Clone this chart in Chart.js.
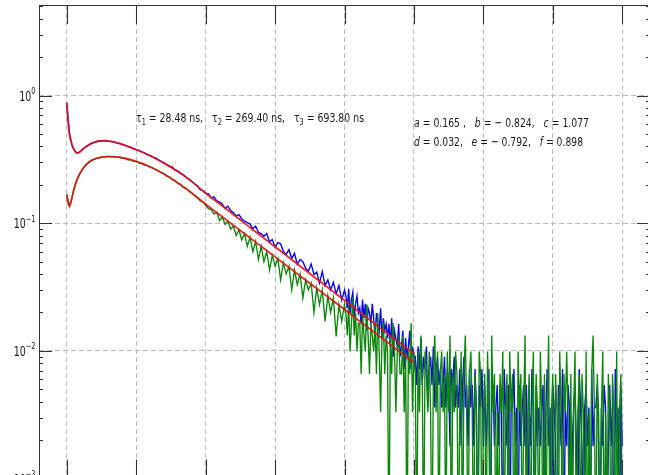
<!DOCTYPE html>
<html>
<head>
<meta charset="utf-8">
<script src="https://cdn.jsdelivr.net/npm/chart.js@4.4.0/dist/chart.umd.min.js"></script>
<style>
  html, body { margin: 0; padding: 0; background: #fff; overflow: hidden; }
  #wrap { width: 648px; height: 475px; overflow: hidden; }
</style>
</head>
<body>
<div id="wrap"><canvas id="decay" width="660" height="500"></canvas></div>
<script>
// sample times (ns): 10 ns steps up to 1000, then 5 ns steps
const dataTimes = [
  0,10,20,30,40,50,60,70,80,90,
  100,110,120,130,140,150,160,170,180,190,
  200,210,220,230,240,250,260,270,280,290,
  300,310,320,330,340,350,360,370,380,390,
  400,410,420,430,440,450,460,470,480,490,
  500,510,520,530,540,550,560,570,580,590,
  600,610,620,630,640,650,660,670,680,690,
  700,710,720,730,740,750,760,770,780,790,
  800,810,820,830,840,850,860,870,880,890,
  900,910,920,930,940,950,960,970,980,990,
  1000,
  1005,1010,1015,1020,1025,1030,1035,1040,1045,1050,
  1055,1060,1065,1070,1075,1080,1085,1090,1095,1100,
  1105,1110,1115,1120,1125,1130,1135,1140,1145,1150,
  1155,1160,1165,1170,1175,1180,1185,1190,1195,1200,
  1205,1210,1215,1220,1225,1230,1235,1240,1245,1250,
  1255,1260,1265,1270,1275,1280,1285,1290,1295,1300,
  1305,1310,1315,1320,1325,1330,1335,1340,1345,1350,
  1355,1360,1365,1370,1375,1380,1385,1390,1395,1400,
  1405,1410,1415,1420,1425,1430,1435,1440,1445,1450,
  1455,1460,1465,1470,1475,1480,1485,1490,1495,1500,
  1505,1510,1515,1520,1525,1530,1535,1540,1545,1550,
  1555,1560,1565,1570,1575,1580,1585,1590,1595,1600,
  1605,1610,1615,1620,1625,1630,1635,1640,1645,1650,
  1655,1660,1665,1670,1675,1680,1685,1690,1695,1700,
  1705,1710,1715,1720,1725,1730,1735,1740,1745,1750,
  1755,1760,1765,1770,1775,1780,1785,1790,1795,1800,
  1805,1810,1815,1820,1825,1830,1835,1840,1845,1850,
  1855,1860,1865,1870,1875,1880,1885,1890,1895,1900,
  1905,1910,1915,1920,1925,1930,1935,1940,1945,1950,
  1955,1960,1965,1970,1975,1980,1985,1990,1995,2000
];

// upper decay (blue)
const blueDecay = [
  0.88,0.50,0.40,0.365,0.355,0.368,0.384,0.400,0.414,0.425,
  0.433,0.439,0.444,0.441,0.445,0.438,0.437,0.433,0.425,0.421,
  0.414,0.408,0.398,0.394,0.383,0.378,0.372,0.362,0.356,0.345,
  0.340,0.330,0.325,0.314,0.306,0.297,0.290,0.280,0.275,0.262,
  0.256,0.246,0.240,0.229,0.222,0.213,0.204,0.196,0.183,0.180,
  0.172,0.170,0.158,0.161,0.150,0.147,0.141,0.131,0.136,0.126,
  0.121,0.114,0.117,0.108,0.104,0.101,0.0985,0.0905,0.0950,0.0850,
  0.0830,0.0790,0.0830,0.0715,0.0745,0.0650,0.0705,0.0690,0.0600,0.0570,
  0.0620,0.0530,0.0580,0.0475,0.0520,0.0500,0.0445,0.0420,0.0480,0.0395,
  0.0415,0.0340,0.0420,0.0325,0.0360,0.0300,0.0345,0.0280,0.0325,0.0250,
  0.0300,
  0.027,0.0216,0.0306,0.0198,0.0252,0.0288,0.018,0.0234,0.027,0.0198,
  0.0216,0.0162,0.0252,0.018,0.0234,0.0144,0.0216,0.0198,0.0162,0.0234,
  0.018,0.0126,0.0198,0.0162,0.0144,0.0216,0.0126,0.018,0.0144,0.0162,
  0.0126,0.0162,0.0108,0.018,0.009,0.0144,0.0126,0.0108,0.0162,0.009,
  0.0108,0.0144,0.0072,0.0126,0.009,0.0108,0.0144,0.0072,0.0108,0.009,
  0.009,0.0054,0.0108,0.0072,0.0126,0.0054,0.009,0.0072,0.0108,0.0036,
  0.0072,0.009,0.0054,0.0108,0.0036,0.0072,0.009,0.0054,0.0072,0.0036,
  0.0054,0.009,0.0036,0.0072,0.0054,0.0018,0.0072,0.0054,0.009,0.0036,
  0.0054,0.0036,0.0072,0.0018,0.0054,0.009,0.0036,0.0054,0.0018,0.0072,
  0.0036,0.0054,0.0018,0.0072,0.0036,0,0.0054,0.0036,0.0072,0.0018,
  0.0054,0.0018,0.0036,0.0072,0,0.0036,0.0054,0.0018,0.0036,0.0054,
  0.0018,0.0054,0.0036,0,0.0072,0.0036,0.0018,0.0054,0,0.0036,
  0.0036,0.0072,0.0018,0.0036,0,0.0054,0.0018,0.0036,0.0054,0.0018,
  0.0054,0,0.0036,0.0018,0.0072,0.0036,0,0.0054,0.0018,0.0036,
  0.0018,0.0036,0.0054,0,0.0036,0.0072,0.0018,0.0036,0,0.0054,
  0.0036,0.0018,0,0.0054,0.0036,0.0018,0.0072,0,0.0036,0.0018,
  0.0054,0.0036,0,0.0018,0.0036,0.0054,0.0018,0,0.0072,0.0036,
  0.0018,0,0.0036,0.0054,0.0018,0.0036,0,0.0072,0.0018,0.0036,
  0.0036,0.0054,0.0018,0,0.0036,0.0018,0.0054,0.0036,0,0.0018,
  0.0054,0.0018,0.0036,0,0.0072,0.0018,0.0036,0,0.0054,0.0018
];

// lower decay (green)
const greenDecay = [
  0.168,0.136,0.163,0.200,0.228,0.252,0.270,0.288,0.300,0.312,
  0.318,0.325,0.326,0.333,0.330,0.334,0.331,0.333,0.328,0.329,
  0.323,0.322,0.314,0.315,0.306,0.305,0.296,0.294,0.284,0.283,
  0.274,0.271,0.262,0.257,0.248,0.245,0.234,0.231,0.220,0.216,
  0.205,0.202,0.190,0.188,0.178,0.172,0.164,0.158,0.150,0.146,
  0.139,0.130,0.128,0.118,0.122,0.105,0.112,0.098,0.104,0.090,
  0.095,0.080,0.089,0.074,0.083,0.066,0.078,0.060,0.072,0.052,
  0.066,0.050,0.060,0.043,0.056,0.046,0.053,0.036,0.049,0.040,
  0.046,0.030,0.043,0.033,0.040,0.026,0.036,0.030,0.034,0.020,
  0.031,0.023,0.030,0.017,0.027,0.020,0.026,0.013,0.023,0.017,
  0.0231,
  0.0198,0.0132,0.0231,0.0099,0.0165,0.0264,0.0132,0.0198,0.0099,0.0165,
  0.0165,0.0066,0.0198,0.0132,0.0099,0.0231,0.0132,0.0066,0.0165,0.0132,
  0.0099,0.0165,0.0066,0.0198,0.0099,0.0033,0.0132,0.0165,0.0066,0.0132,
  0.0099,0,0.0132,0.0066,0.0165,0.0099,0.0033,0.0099,0.0132,0.0066,
  0.0066,0.0132,0.0033,0.0099,0,0.0099,0.0066,0.0165,0.0033,0.0099,
  0.0066,0,0.0099,0.0033,0.0132,0.0066,0,0.0099,0.0066,0.0033,
  0.0099,0.0033,0,0.0066,0.0132,0.0033,0.0099,0,0.0066,0.0099,
  0.0033,0.0066,0,0.0099,0.0033,0.0132,0,0.0066,0.0033,0.0099,
  0.0066,0,0.0033,0.0099,0,0.0066,0.0132,0.0033,0,0.0066,
  0.0099,0.0033,0,0.0066,0.0033,0,0.0099,0.0066,0,0.0033,
  0.0066,0,0.0099,0.0033,0,0.0132,0.0033,0.0066,0,0.0033,
  0,0.0066,0.0033,0.0099,0,0.0033,0.0066,0,0.0099,0.0033,
  0.0066,0,0.0033,0,0.0099,0.0033,0.0066,0,0.0033,0.0132,
  0,0.0033,0.0066,0,0.0033,0.0099,0,0.0066,0.0033,0,
  0.0099,0.0033,0,0.0066,0,0.0033,0.0132,0,0.0033,0.0066,
  0,0.0066,0.0033,0,0.0099,0.0033,0,0.0066,0.0033,0.0099,
  0.0033,0,0.0066,0,0.0033,0.0099,0,0.0033,0.0066,0,
  0.0066,0.0033,0,0.0099,0,0.0033,0,0.0066,0.0132,0.0033,
  0,0.0066,0.0033,0,0.0033,0.0099,0,0.0033,0,0.0066,
  0.0033,0,0.0066,0.0033,0,0.0099,0,0.0033,0.0066,0
];

// fitted curves (red)
const fitTimes = [0,3,6,9,12,15,20,25,30,37,45,60,80,100,120,140,160,180,200,
  250,300,350,400,450,500,550,600,650,700,750,800,850,900,950,1000,1050,1100,1150,1200,1250];
const fitUpper = [0.88,0.70,0.58,0.51,0.47,0.44,0.405,0.382,0.366,0.354,0.358,
  0.383,0.410,0.430,0.441,0.443,0.438,0.428,0.415,
  0.377,0.338,0.295,0.254,0.212,0.172,0.142,0.117,0.0963,0.0794,0.0654,0.0539,
  0.0444,0.0366,0.0302,0.0249,0.0205,0.0169,0.0139,0.0115,0.0095];
const fitLower = [0.168,0.150,0.140,0.136,0.139,0.146,0.163,0.182,0.198,0.219,0.240,
  0.272,0.302,0.318,0.328,0.333,0.333,0.330,0.326,
  0.305,0.277,0.243,0.207,0.173,0.141,0.1166,0.0964,0.0797,0.0659,0.0545,0.0451,
  0.0373,0.0308,0.0255,0.0211,0.0174,0.0144,0.0119,0.0098,0.0081];

const xTicks = [0, 250, 500, 750, 1000, 1250, 1500, 1750, 2000];
const yMajorTicks = [0.001, 0.01, 0.1, 1];

const tauLine = [
  {t: 'τ'}, {t: '1', sub: true}, {t: ' = 28.48 ns,   '},
  {t: 'τ'}, {t: '2', sub: true}, {t: ' = 269.40 ns,   '},
  {t: 'τ'}, {t: '3', sub: true}, {t: ' = 693.80 ns'}
];
const coefLine1 = [
  {t: 'a', it: true}, {t: ' = 0.165 ,   '}, {t: 'b', it: true}, {t: ' = − 0.824,   '},
  {t: 'c', it: true}, {t: ' = 1.077'}
];
const coefLine2 = [
  {t: 'd', it: true}, {t: ' = 0.032,   '}, {t: 'e', it: true}, {t: ' = − 0.792,   '},
  {t: 'f', it: true}, {t: ' = 0.898'}
];

// zero counts fall below the log axis, like matplotlib's clipping
const clipLow = v => (v > 0 ? v : 2e-4);
const toPoints = (xs, ys) => xs.map((t, i) => ({x: t, y: clipLow(ys[i])}));

const isDecade = v => Math.abs(Math.log10(v) - Math.round(Math.log10(v))) < 1e-9;

const yTickValues = [];
yMajorTicks.forEach(d => {
  for (let m = 1; m <= 9; m++) {
    if (m * d <= 5.13) yTickValues.push(m * d);
  }
});

const FONT = '"DejaVu Sans", sans-serif';
const SQUEEZE = 0.7;

function measureParts(ctx, parts, size) {
  let w = 0;
  parts.forEach(p => {
    ctx.font = (p.it ? 'italic ' : '') + (p.sub || p.sup ? size * 0.7 : size) + 'px ' + FONT;
    p.w = ctx.measureText(p.t).width;
    w += p.w;
  });
  return w;
}

function drawParts(ctx, parts, left, baseline, size, sx) {
  ctx.save();
  ctx.translate(left, baseline);
  ctx.scale(sx, 1);
  let cx = 0;
  parts.forEach(p => {
    ctx.font = (p.it ? 'italic ' : '') + (p.sub || p.sup ? size * 0.7 : size) + 'px ' + FONT;
    const dy = p.sub ? size * 0.22 : (p.sup ? -size * 0.48 : 0);
    ctx.fillText(p.t, cx, dy);
    cx += p.w;
  });
  ctx.restore();
}

function drawFitted(ctx, parts, left, right, baseline, size) {
  const w = measureParts(ctx, parts, size);
  drawParts(ctx, parts, left, baseline, size, (right - left) / w);
}

const axesDecor = {
  id: 'axesDecor',
  afterDatasetsDraw(chart) {
    const {ctx, chartArea: a, scales: {x, y}} = chart;
    ctx.save();
    ctx.strokeStyle = '#333';
    ctx.lineWidth = 1.1;
    ctx.beginPath();
    x.ticks.forEach(t => {
      const px = Math.round(x.getPixelForValue(t.value)) + 0.5;
      ctx.moveTo(px, a.top); ctx.lineTo(px, a.top + 19);
      ctx.moveTo(px, a.bottom); ctx.lineTo(px, a.bottom - 19);
    });
    y.ticks.forEach(t => {
      const len = isDecade(t.value) ? 13 : 4;
      const py = Math.round(y.getPixelForValue(t.value)) + 0.5;
      ctx.moveTo(a.left, py); ctx.lineTo(a.left + len, py);
      ctx.moveTo(a.right, py); ctx.lineTo(a.right - len, py);
    });
    ctx.stroke();
    ctx.lineWidth = 1;
    ctx.strokeRect(Math.round(a.left) + 0.5, Math.round(a.top) + 0.5,
      Math.round(a.right - a.left), Math.round(a.bottom - a.top));
    ctx.restore();
  },
  afterDraw(chart) {
    const {ctx, chartArea: a, scales: {y}} = chart;
    ctx.save();
    ctx.fillStyle = '#1a1a1a';
    ctx.textBaseline = 'alphabetic';
    // y tick labels
    y.ticks.forEach(t => {
      if (!isDecade(t.value)) return;
      const e = Math.round(Math.log10(t.value));
      const parts = [{t: '10'}, {t: e === 0 ? '0' : '−' + (-e), sup: true}];
      const w = measureParts(ctx, parts, 13.5) * SQUEEZE;
      const py = y.getPixelForValue(t.value);
      drawParts(ctx, parts, a.left - 3.5 - w, py + 5, 13.5, SQUEEZE);
    });
    // annotations
    drawFitted(ctx, tauLine, 136, 364, 122, 13);
    drawFitted(ctx, coefLine1, 414, 589, 127, 13);
    drawFitted(ctx, coefLine2, 414, 583, 146, 13);
    ctx.restore();
  }
};

new Chart(document.getElementById('decay'), {
  type: 'line',
  data: {
    datasets: [
      {
        label: 'fit upper',
        data: toPoints(fitTimes, fitUpper),
        borderColor: 'rgba(225, 20, 25, 0.9)',
        borderWidth: 1.8,
        pointRadius: 0,
        cubicInterpolationMode: 'monotone'
      },
      {
        label: 'fit lower',
        data: toPoints(fitTimes, fitLower),
        borderColor: 'rgba(215, 25, 20, 0.9)',
        borderWidth: 1.8,
        pointRadius: 0,
        cubicInterpolationMode: 'monotone'
      },
      {
        label: 'green',
        data: toPoints(dataTimes, greenDecay),
        borderColor: '#0a860a',
        borderWidth: 1.35,
        pointRadius: 0,
        tension: 0
      },
      {
        label: 'blue',
        data: toPoints(dataTimes, blueDecay),
        borderColor: '#0000f0',
        borderWidth: 1.35,
        pointRadius: 0,
        tension: 0
      }
    ]
  },
  options: {
    responsive: false,
    animation: false,
    devicePixelRatio: 1,
    layout: {padding: {top: 5, right: 10, bottom: 21.5, left: 0}},
    plugins: {legend: {display: false}, tooltip: {enabled: false}},
    scales: {
      x: {
        type: 'linear',
        min: -100,
        max: 2100,
        afterBuildTicks: s => { s.ticks = xTicks.map(v => ({value: v})); },
        afterFit: s => { s.height = 0; },
        ticks: {display: false},
        grid: {color: '#bdbdbd', lineWidth: 1, drawTicks: false},
        border: {display: false, dash: [5, 3]}
      },
      y: {
        type: 'logarithmic',
        min: 0.001,
        max: 5.13,
        afterBuildTicks: s => { s.ticks = yTickValues.map(v => ({value: v, major: isDecade(v)})); },
        afterFit: s => { s.width = 39; },
        ticks: {display: false},
        grid: {
          color: c => (c.tick && isDecade(c.tick.value) ? '#bdbdbd' : 'rgba(0,0,0,0)'),
          lineWidth: 1,
          drawTicks: false
        },
        border: {display: false, dash: [5, 3]}
      }
    }
  },
  plugins: [axesDecor]
});
</script>
</body>
</html>
